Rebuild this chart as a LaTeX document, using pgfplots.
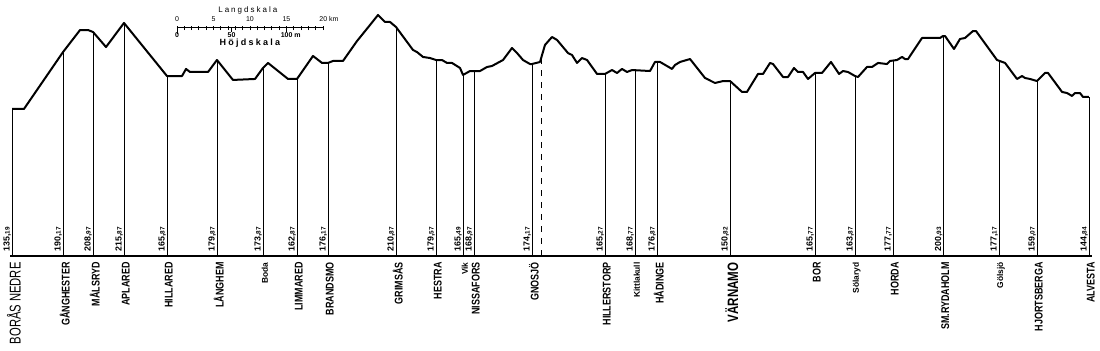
\documentclass[border=0pt]{standalone}
\usepackage{fontspec}
\setmainfont{Liberation Sans}
\newfontfamily\spaced[LetterSpace=25]{Liberation Sans}
\usepackage{pgfplots}
\usepackage{pgfplotstable}
\pgfplotsset{compat=1.18}

% Profile: distance from Borås Nedre (km), height (m)
\pgfplotstableread{
km elev
0.00 134.9
1.64 134.9
6.99 187.1
9.32 207.3
10.41 207.3
11.10 205.5
12.88 191.7
15.34 213.8
21.23 165.1
23.29 165.1
23.84 171.6
24.38 168.8
26.85 168.8
28.08 179.8
30.27 161.5
33.29 162.4
34.38 172.5
35.07 177.1
37.81 162.4
39.04 162.4
41.23 183.5
42.47 177.1
43.29 177.1
43.97 178.9
45.34 178.9
47.26 197.2
49.04 211.9
50.14 221.1
51.10 214.7
51.78 214.7
52.60 210.1
54.93 189.0
55.48 187.1
56.30 182.6
57.26 181.6
58.08 179.8
58.90 179.8
59.59 177.1
60.27 177.1
61.37 172.5
61.78 166.1
62.74 169.7
64.11 169.7
65.07 173.4
65.75 174.3
67.26 179.8
68.49 190.8
69.18 186.2
70.00 179.8
70.96 176.1
71.23 176.1
72.33 178.0
73.01 193.6
73.97 200.9
74.66 198.2
76.16 186.2
76.71 184.4
77.40 177.1
78.08 181.6
78.77 179.8
80.14 167.0
81.23 167.0
82.19 170.6
82.88 167.9
83.56 171.6
84.25 168.8
84.93 170.6
87.40 169.7
88.08 178.0
88.77 178.0
90.41 171.6
90.82 175.2
91.51 178.0
92.88 180.7
94.93 163.3
96.30 158.7
97.40 160.5
98.36 160.5
100.00 150.5
100.68 150.5
102.19 167.0
102.88 167.0
103.84 177.1
104.25 176.1
105.62 164.2
106.30 164.2
107.12 172.5
107.67 168.8
108.36 168.8
109.04 162.4
110.00 167.9
110.96 167.9
112.19 178.0
113.29 167.0
113.84 169.7
114.52 168.8
115.48 165.1
115.89 164.2
117.12 173.4
117.81 173.4
118.63 177.1
119.86 176.1
120.27 178.9
121.23 179.8
121.92 182.6
122.33 180.7
122.74 180.7
124.66 200.0
127.12 200.0
127.53 201.8
127.81 201.8
129.04 189.9
129.86 199.1
130.55 200.0
131.64 206.4
132.05 206.4
134.93 179.8
136.03 177.1
137.67 162.4
138.36 165.1
138.77 163.3
139.45 162.4
140.41 160.5
141.51 167.9
141.92 167.9
143.84 150.5
144.52 149.5
145.21 146.8
145.62 149.5
146.30 149.5
146.71 145.9
147.53 145.9
}\profile

\newcommand\valfont{\fontsize{4.4}{5}\selectfont\bfseries}
\newcommand\bigreg[1]{\fontsize{7.8}{8}\selectfont\scalebox{0.72}[1]{#1}}
\newcommand\bigbold[1]{\fontsize{7.5}{8}\selectfont\bfseries\scalebox{0.77}[1]{#1}}
\newcommand\bn[1]{\fontsize{5.6}{6}\selectfont\bfseries\scalebox{0.8}[1]{#1}}
\newcommand\sn[1]{\fontsize{4.2}{5}\selectfont\bfseries #1}

% station: km, height, integer part, decimals, name
\newcommand\st[5]{%
 \addplot[black, line width=0.45pt] coordinates {(#1,0) (#1,#2)};
 \node[yshift=1.8pt, rotate=90, anchor=south west, inner sep=0.3pt, font=\valfont] at (axis cs:#1,0) {#3,{\fontsize{3.2}{3.5}\selectfont #4}};
 \node[xshift=0.9pt, yshift=-3pt, rotate=90, anchor=east, inner sep=0pt] at (axis cs:#1,0) {#5};
}

\begin{document}
\begin{tikzpicture}
\begin{axis}[x=3.65pt, y=0.545pt, xmin=-1.644, xmax=149.04, ymin=-87.16, ymax=234.86,
  hide axis, clip=false]
\path (axis cs:-1.644,-87.16) rectangle (axis cs:149.04,234.86);
\addplot[black, line width=1pt, line join=round] table[x=km, y=elev] {\profile};
\addplot[black, line width=0.7pt] coordinates {(-0.27,0) (147.9,0)};
\addplot[black, line width=0.5pt, dashed] coordinates {(72.47,0) (72.47,181.2)};

\st{0}{134.9}{135}{19}{\bigreg{BORÅS NEDRE}}
\st{6.99}{187.1}{190}{17}{\bn{GÅNGHESTER}}
\st{11.10}{205.5}{208}{97}{\bn{MÅLSRYD}}
\st{15.34}{213.8}{215}{87}{\bn{APLARED}}
\st{21.23}{165.1}{165}{87}{\bn{HILLARED}}
\st{28.08}{179.8}{179}{87}{\bn{LÅNGHEM}}
\st{34.38}{172.5}{173}{87}{\sn{Boda}}
\st{39.04}{162.4}{162}{87}{\bn{LIMMARED}}
\st{43.29}{177.1}{176}{17}{\bn{BRANDSMO}}
\st{52.60}{210.1}{210}{87}{\bn{GRIMSÅS}}
\st{58.08}{179.8}{179}{57}{\bn{HESTRA}}
\st{61.78}{166.1}{165}{49}{\sn{Vik}}
\st{63.29}{169.7}{168}{97}{\bn{NISSAFORS}}
\st{71.23}{176.1}{174}{17}{\bn{GNOSJÖ}}
\st{81.23}{167.0}{165}{27}{\bn{HILLERSTORP}}
\st{85.34}{170.4}{168}{77}{\sn{Kittlakull}}
\st{88.36}{178.0}{176}{87}{\bn{HÅDINGE}}
\st{98.36}{160.5}{150}{82}{\bigbold{VÄRNAMO}}
\st{110.00}{167.9}{165}{77}{\bn{BOR}}
\st{115.48}{165.1}{163}{87}{\sn{Sölaryd}}
\st{120.68}{179.3}{177}{77}{\bn{HORDA}}
\st{127.60}{201.8}{200}{93}{\bn{SM.RYDAHOLM}}
\st{135.21}{179.1}{177}{17}{\sn{Gölsjö}}
\st{140.41}{160.5}{159}{07}{\bn{HJORTSBERGA}}
\st{147.53}{145.9}{144}{84}{\bn{ALVESTA}}

% scale bar
\draw[line width=0.5pt] (axis cs:22.6,209.2) -- (axis cs:42.6,209.2);
\draw[line width=0.4pt] (axis cs:22.6,209.2) \foreach \i in {0,...,20} { ++(0pt,-1.1pt) -- ++(0pt,2.2pt) ++(3.65pt,-1.1pt) };
\draw[line width=0.4pt] (axis cs:22.6,209.2) -- ++(0pt,-3pt);
\draw[line width=0.4pt] (axis cs:30.07,209.2) -- ++(0pt,-2pt);
\draw[line width=0.4pt] (axis cs:37.53,209.2) -- ++(0pt,-2pt);
\node[font=\fontsize{3.5}{4}\selectfont, inner sep=0pt] at (axis cs:22.6,217) {0};
\node[font=\fontsize{3.5}{4}\selectfont, inner sep=0pt] at (axis cs:27.6,217) {5};
\node[font=\fontsize{3.5}{4}\selectfont, inner sep=0pt] at (axis cs:32.6,217) {10};
\node[font=\fontsize{3.5}{4}\selectfont, inner sep=0pt] at (axis cs:37.6,217) {15};
\node[font=\fontsize{3.5}{4}\selectfont, inner sep=0pt, anchor=west] at ([xshift=-2pt]axis cs:42.6,217) {20 km};
\node[font=\fontsize{3.5}{4}\selectfont\bfseries, inner sep=0pt] at (axis cs:22.6,203) {0};
\node[font=\fontsize{3.5}{4}\selectfont\bfseries, inner sep=0pt] at (axis cs:30.07,203) {50};
\node[font=\fontsize{3.5}{4}\selectfont\bfseries, inner sep=0pt, anchor=west] at ([xshift=-2.8pt]axis cs:37.53,203) {100 m};
\node[font=\spaced\fontsize{4}{5}\selectfont, inner sep=0pt] at (axis cs:32.3,225.5) {Langdskala};
\node[font=\spaced\fontsize{4.5}{5}\selectfont\bfseries, inner sep=0pt] at (axis cs:32.6,195) {Höjdskala};
\end{axis}
\end{tikzpicture}
\end{document}
